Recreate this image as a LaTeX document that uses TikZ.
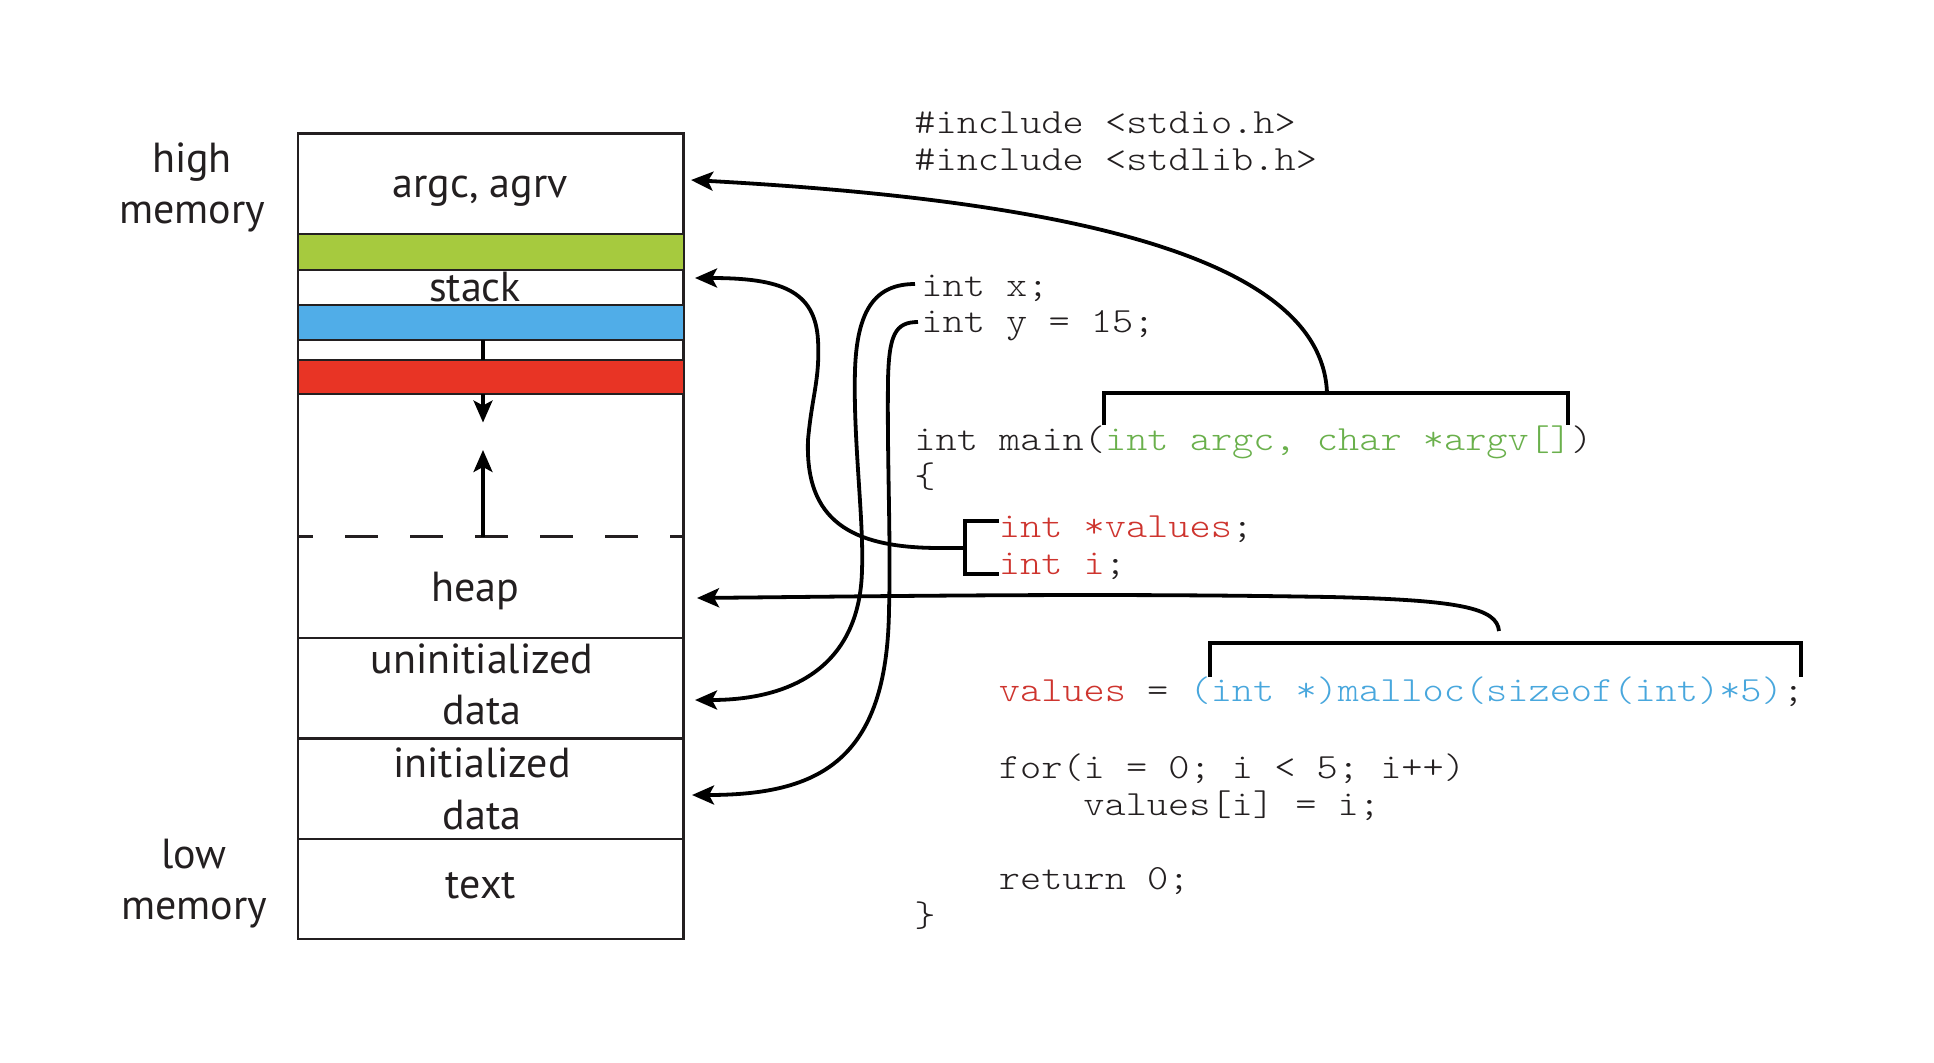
\documentclass[tikz,border=0pt]{standalone}
\usepackage{fontspec}
\setsansfont{PT Sans}
\newfontfamily\codefont{Latin Modern Mono Light}[FakeStretch=1.14]
\usetikzlibrary{arrows.meta}
\definecolor{bargreen}{RGB}{166,202,62}
\definecolor{barblue}{RGB}{80,173,232}
\definecolor{barred}{RGB}{232,52,37}
\definecolor{codegreen}{RGB}{106,176,76}
\definecolor{codered}{RGB}{206,52,46}
\definecolor{codeblue}{RGB}{72,167,221}
\definecolor{ink}{RGB}{35,31,32}
\begin{document}
\begin{tikzpicture}[x=0.5pt,y=-0.5pt,
  lbl/.style={font=\sffamily\fontsize{21}{25}\selectfont, text=ink, inner sep=0, anchor=base},
  code/.style={font=\codefont\fontsize{17.7}{18.5}\selectfont, text=ink, inner sep=0, anchor=base west},
  seg/.style={line width=1.4pt, draw=ink},
  conn/.style={line width=1.9pt, draw=black, -{Stealth[length=11pt,width=9.5pt,inset=2.5pt]}},
  brk/.style={line width=1.6pt, draw=black}]
\useasboundingbox (0,0) rectangle (1934,1062);
\fill[white] (0,0) rectangle (1934,1062);

% memory box
\draw[seg] (298,133.5) rectangle (683.5,939);
\filldraw[seg, fill=bargreen] (298,234) rectangle (684,270);
\filldraw[seg, fill=barblue] (298,305) rectangle (684,340);
\filldraw[seg, fill=barred] (298,360) rectangle (684,394);
\draw[seg] (298,638) -- (683.5,638);
\draw[seg] (298,738.5) -- (683.5,738.5);
\draw[seg] (298,839) -- (683.5,839);
\draw[seg, dash pattern=on 16.5pt off 16pt, dash phase=9pt] (298,536.5) -- (683.5,536.5);

% growth arrows
\coordinate (blueB) at (483,340);
\coordinate (redT) at (483,360);
\coordinate (redB) at (483,394);
\coordinate (downTip) at (483,422.5);
\coordinate (dashM) at (483,536.5);
\coordinate (upTip) at (483,450);
\draw[line width=1.6pt] (blueB) -- (redT);
\draw[line width=1.6pt, -{Stealth[length=11pt,width=9.5pt,inset=2.5pt]}] (redB) -- (downTip);
\draw[line width=1.6pt, -{Stealth[length=11pt,width=9.5pt,inset=2.5pt]}] (dashM) -- (upTip);

% labels
\node[lbl] (high) at (192,172) {high};
\node[lbl] (highmem) at (192,223.6) {memory};
\node[lbl] (low) at (194,868.6) {low};
\node[lbl] (lowmem) at (194,919.5) {memory};
\node[lbl] (argc) at (480,197.6) {argc, agrv};
\node[lbl] (stack) at (475,301.6) {stack};
\node[lbl] (heap) at (475,601) {heap};
\node[lbl] (uninit) at (482,673) {uninitialized};
\node[lbl] (udata) at (482,724.5) {data};
\node[lbl] (init) at (482,777.5) {initialized};
\node[lbl] (idata) at (482,829) {data};
\node[lbl] (text) at (481,898) {text};

% code
\node[code] (inc1) at (914,133.3) {\#include <stdio.h>};
\node[code] (inc2) at (914,170.7) {\#include <stdlib.h>};
\node[code] (intx) at (921,296) {int x;};
\node[code] (inty) at (921,332.7) {int y = 15;};
\node[code] (main) at (914,450.7) {int main(\textcolor{codegreen}{int argc, char *argv[]})};
\node[code] (lbrace) at (914,487.5) {\{};
\node[code] (vals) at (998.5,537.7) {\textcolor{codered}{int *values};};
\node[code] (inti) at (998.5,574.3) {\textcolor{codered}{int i};};
\node[code] (malloc) at (998.5,701.7) {\textcolor{codered}{values} = \textcolor{codeblue}{(int *)malloc(sizeof(int)*5)};};
\node[code] (forl) at (998.5,778.3) {for(i = 0; i < 5; i++)};
\node[code] (valsi) at (1083,815) {values[i] = i;};
\node[code] (ret) at (998.5,889.3) {return 0;};
\node[code] (rbrace) at (914,926) {\}};

% brackets
\draw[brk] (1104,425) -- (1104,393) -- (1568,393) -- (1568,425);
\draw[brk] (1210,677) -- (1210,643) -- (1801,643) -- (1801,677);
\draw[brk] (999,521) -- (965,521) -- (965,574) -- (999,574);
\coordinate (brArgs) at (1327,393);
\coordinate (brMalloc) at (1499,631);
\coordinate (brVals) at (965,548);
\coordinate (hookX) at (915,284);
\coordinate (hookY) at (918,322);

% targets on the memory box
\coordinate (toArgc) at (691,180);
\coordinate (toStack) at (695,278);
\coordinate (toHeap) at (697,598);
\coordinate (toUninit) at (695,700);
\coordinate (toInit) at (692,795);

% connectors
\draw[conn] (brArgs) .. controls (1322,255) and (1060,200) .. (toArgc);
\draw[conn] (brVals) -- (940,548) .. controls (850,548) and (805,520) .. (808,440)
  .. controls (812,395) and (820,380) .. (818,340)
  .. controls (815,290) and (780,278) .. (toStack);
\draw[conn] (brMalloc) .. controls (1497,608) and (1460,600) .. (1330,597)
  .. controls (1100,593) and (900,596) .. (toHeap);
\draw[conn] (hookX) .. controls (875,284) and (857,310) .. (855,370)
  .. controls (853,440) and (864,520) .. (862,570)
  .. controls (860,660) and (800,700) .. (toUninit);
\draw[conn] (hookY) .. controls (895,322) and (889,335) .. (888,380)
  .. controls (887,460) and (891,540) .. (889,610)
  .. controls (887,760) and (820,795) .. (toInit);
\end{tikzpicture}
\end{document}
